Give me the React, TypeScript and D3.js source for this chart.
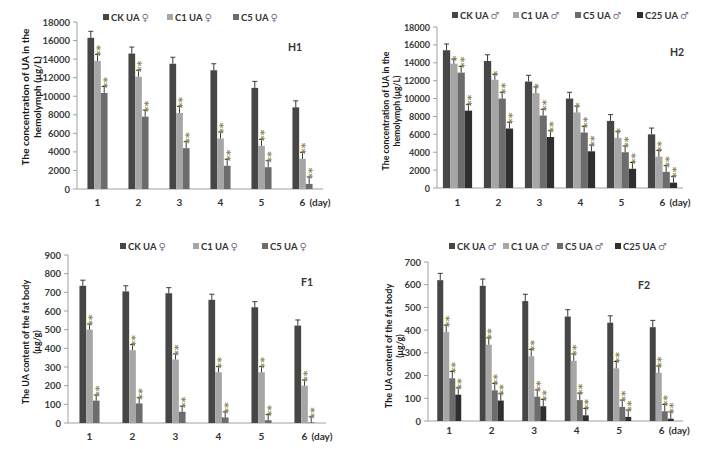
import React from "react";
import * as d3 from "d3";

// ---------- data ----------
const days = ["1", "2", "3", "4", "5", "6"];
const seriesNames = ["CK UA", "C1 UA", "C5 UA", "C25 UA"];
const female = "♀";
const male = "♂";

// H1: female hemolymph (µg/L)
const h1CK = [16300, 14600, 13500, 12800, 10900, 8800];
const h1C1 = [13800, 12100, 8200, 5450, 4650, 3250];
const h1C5 = [10350, 7800, 4400, 2500, 2350, 550];
const h1ErrCK = [700, 700, 700, 700, 700, 700];
const h1ErrC1 = [700, 700, 700, 700, 700, 700];
const h1ErrC5 = [700, 700, 700, 700, 700, 750];
const h1SigC1 = ["**", "**", "**", "**", "**", "**"];
const h1SigC5 = ["**", "**", "**", "**", "**", "**"];

// H2: male hemolymph (µg/L)
const h2CK = [15400, 14200, 11900, 10000, 7500, 6000];
const h2C1 = [13900, 12100, 10600, 8450, 5600, 3500];
const h2C5 = [12900, 10000, 8100, 6200, 4000, 1800];
const h2C25 = [8650, 6650, 5700, 4100, 2150, 600];
const h2ErrCK = [700, 700, 700, 700, 700, 700];
const h2ErrC1 = [500, 600, 700, 700, 700, 700];
const h2ErrC5 = [700, 700, 700, 700, 700, 700];
const h2ErrC25 = [700, 700, 700, 700, 700, 700];
const h2SigC1 = ["*", "*", "*", "*", "*", "**"];
const h2SigC5 = ["**", "**", "**", "**", "**", "**"];
const h2SigC25 = ["**", "**", "**", "**", "**", "**"];

// F1: female fat body (µg/g)
const f1CK = [735, 705, 695, 660, 620, 522];
const f1C1 = [500, 390, 340, 272, 272, 200];
const f1C5 = [120, 105, 60, 30, 15, 3];
const f1ErrCK = [30, 30, 30, 30, 30, 30];
const f1ErrC1 = [30, 30, 30, 30, 30, 30];
const f1ErrC5 = [30, 30, 30, 30, 30, 30];
const f1SigC1 = ["**", "**", "**", "**", "**", "**"];
const f1SigC5 = ["**", "**", "**", "**", "**", "**"];

// F2: male fat body (µg/g)
const f2CK = [620, 595, 528, 460, 433, 413];
const f2C1 = [392, 336, 285, 265, 232, 212];
const f2C5 = [188, 135, 107, 92, 62, 43];
const f2C25 = [116, 90, 65, 25, 18, 10];
const f2ErrCK = [30, 30, 30, 30, 30, 30];
const f2ErrC1 = [30, 30, 30, 30, 30, 30];
const f2ErrC5 = [30, 30, 30, 30, 30, 30];
const f2ErrC25 = [30, 30, 30, 30, 30, 30];
const f2SigC1 = ["**", "**", "**", "**", "**", "**"];
const f2SigC5 = ["**", "**", "**", "**", "**", "**"];
const f2SigC25 = ["**", "**", "**", "**", "**", "**"];

// ---------- styles ----------
const colors = ["#464646", "#a6a6a6", "#6c6c6c", "#2f2f2f"];
const FONT = "Lato, 'Open Sans', 'DejaVu Sans', sans-serif";
const SYM_COLOR = "#7d6f8c";
const STAR_COLOR = "#8c8658";
const STAR_SIZE = 11;

type PanelCfg = {
  values: number[][];
  errs: number[][];
  sigs: (string[] | null)[];
  symbol: string;
  max: number;
  step: number;
  x0: number;
  x1: number;
  yTop: number;
  yBot: number;
  barW: number;
  legendX: number[];
  legendY: number;
  ylabel: string[];
  ylabelX: number[];
  ylabelY: number;
  ylabelSize: number;
  tag: string;
  tagX: number;
  tagY: number;
  xLabelY: number;
  tickSize: number;
};

const panels: PanelCfg[] = [
  {
    values: [h1CK, h1C1, h1C5],
    errs: [h1ErrCK, h1ErrC1, h1ErrC5],
    sigs: [null, h1SigC1, h1SigC5],
    symbol: female,
    max: 18000, step: 2000,
    x0: 77, x1: 323, yTop: 22, yBot: 189, barW: 6.7,
    legendX: [103, 167, 233], legendY: 17,
    ylabel: ["The concentration of UA in the", "hemolymph (μg/L)"],
    ylabelX: [25, 37], ylabelY: 97, ylabelSize: 10,
    tag: "H1", tagX: 295, tagY: 47, xLabelY: 202, tickSize: 9.5,
  },
  {
    values: [h2CK, h2C1, h2C5, h2C25],
    errs: [h2ErrCK, h2ErrC1, h2ErrC5, h2ErrC25],
    sigs: [null, h2SigC1, h2SigC5, h2SigC25],
    symbol: male,
    max: 18000, step: 2000,
    x0: 437, x1: 683, yTop: 27, yBot: 188, barW: 7.3,
    legendX: [452, 513, 575, 637], legendY: 15,
    ylabel: ["The concentration of UA in the", "hemolymph (μg/L)"],
    ylabelX: [385, 396], ylabelY: 111, ylabelSize: 8.7,
    tag: "H2", tagX: 677, tagY: 52, xLabelY: 202, tickSize: 9,
  },
  {
    values: [f1CK, f1C1, f1C5],
    errs: [f1ErrCK, f1ErrC1, f1ErrC5],
    sigs: [null, f1SigC1, f1SigC5],
    symbol: female,
    max: 900, step: 100,
    x0: 68, x1: 326, yTop: 255, yBot: 423, barW: 6.7,
    legendX: [120, 193, 262], legendY: 246,
    ylabel: ["The UA content of the fat body", "(μg/g)"],
    ylabelX: [25, 36], ylabelY: 342, ylabelSize: 9,
    tag: "F1", tagX: 307, tagY: 282, xLabelY: 436, tickSize: 9.5,
  },
  {
    values: [f2CK, f2C1, f2C5, f2C25],
    errs: [f2ErrCK, f2ErrC1, f2ErrC5, f2ErrC25],
    sigs: [null, f2SigC1, f2SigC5, f2SigC25],
    symbol: male,
    max: 700, step: 100,
    x0: 428, x1: 683, yTop: 262, yBot: 421, barW: 6,
    legendX: [449, 503, 557, 615], legendY: 246,
    ylabel: ["The UA content of the fat body", "(μg/g)"],
    ylabelX: [388, 399], ylabelY: 346, ylabelSize: 9,
    tag: "F2", tagX: 644, tagY: 285, xLabelY: 430, tickSize: 9.5,
  },
];

function Panel({ cfg }: { cfg: PanelCfg }) {
  const x = d3.scaleBand<string>().domain(days).range([cfg.x0, cfg.x1]);
  const y = d3.scaleLinear().domain([0, cfg.max]).range([cfg.yBot, cfg.yTop]);
  const n = cfg.values.length;
  const inner = d3
    .scaleBand<number>()
    .domain(d3.range(n))
    .range([-(n * cfg.barW) / 2, (n * cfg.barW) / 2])
    .padding(0);
  const ticks = d3.range(0, cfg.max + cfg.step / 2, cfg.step);
  const lastDay = days[days.length - 1];

  return (
    <g fontFamily={FONT}>
      {/* legend */}
      {cfg.values.map((_, i) => (
        <g key={"lg" + i}>
          <rect x={cfg.legendX[i]} y={cfg.legendY - 3} width={6} height={6} fill={colors[i]} />
          <text x={cfg.legendX[i] + 8} y={cfg.legendY} dominantBaseline="central" fontSize={9.5} fontWeight="bold" fill="#333">
            {seriesNames[i] + " "}
            <tspan fill={SYM_COLOR} fontFamily="'DejaVu Sans', sans-serif" fontWeight="normal" fontSize={10}>
              {cfg.symbol}
            </tspan>
          </text>
        </g>
      ))}

      {/* y axis */}
      <line x1={cfg.x0} x2={cfg.x0} y1={cfg.yTop} y2={cfg.yBot} stroke="#a0a0a0" strokeWidth={1} />
      {ticks.map((t) => (
        <g key={"t" + t}>
          <line x1={cfg.x0 - 4} x2={cfg.x0} y1={y(t)} y2={y(t)} stroke="#a0a0a0" />
          <text x={cfg.x0 - 7} y={y(t)} textAnchor="end" dominantBaseline="central" fontSize={cfg.tickSize} fontWeight="bold" fill="#3a3a3a">
            {t}
          </text>
        </g>
      ))}
      {/* x axis */}
      <line x1={cfg.x0} x2={cfg.x1} y1={cfg.yBot} y2={cfg.yBot} stroke="#a0a0a0" strokeWidth={1} />
      {days.map((d) => (
        <text key={"xl" + d} x={x(d)! + x.bandwidth() / 2} y={cfg.xLabelY} textAnchor="middle" dominantBaseline="central" fontSize={10} fontWeight="bold" fill="#333">
          {d}
        </text>
      ))}
      <text x={x(lastDay)! + x.bandwidth() / 2 + 7} y={cfg.xLabelY} dominantBaseline="central" fontSize={10} fontWeight="bold" fill="#333">
        (day)
      </text>

      {/* y label */}
      {cfg.ylabel.map((l, i) => (
        <text
          key={"yl" + i}
          transform={`translate(${cfg.ylabelX[i]},${cfg.ylabelY}) rotate(-90)`}
          textAnchor="middle"
          dominantBaseline="central"
          fontSize={cfg.ylabelSize}
          fontWeight="bold"
          fill="#1a1a1a"
        >
          {l}
        </text>
      ))}

      {/* tag */}
      <text x={cfg.tagX} y={cfg.tagY} textAnchor="middle" dominantBaseline="central" fontSize={10.5} fontWeight="bold" fill="#333">
        {cfg.tag}
      </text>

      {/* bars */}
      {cfg.values.map((vals, si) =>
        vals.map((v, di) => {
          const cx = x(days[di])! + x.bandwidth() / 2 + inner(si)!;
          const mid = cx + cfg.barW / 2;
          const top = y(v);
          const et = y(v + cfg.errs[si][di]);
          const sig = cfg.sigs[si] ? cfg.sigs[si]![di] : "";
          return (
            <g key={"b" + si + "-" + di}>
              <rect x={cx} y={top} width={cfg.barW} height={cfg.yBot - top} fill={colors[si]} />
              <line x1={mid} x2={mid} y1={top} y2={et} stroke="#3a3a3a" strokeWidth={1} />
              <line x1={mid - 2.5} x2={mid + 2.5} y1={et} y2={et} stroke="#3a3a3a" strokeWidth={1} />
              {sig && (
                <text
                  transform={`translate(${mid + STAR_SIZE * 0.59},${et + 2}) rotate(-90)`}
                  fontSize={STAR_SIZE}
                  fontWeight="bold"
                  fill={STAR_COLOR}
                  fontFamily="'DejaVu Sans', sans-serif"
                >
                  {sig}
                </text>
              )}
            </g>
          );
        })
      )}
    </g>
  );
}

export default function App() {
  return (
    <svg
      width={709}
      height={449}
      style={{ position: "absolute", left: 0, top: 0, background: "#fff" }}
    >
      <rect x={0} y={0} width={709} height={449} fill="#fff" />
      {panels.map((p, i) => (
        <Panel key={i} cfg={p} />
      ))}
    </svg>
  );
}
